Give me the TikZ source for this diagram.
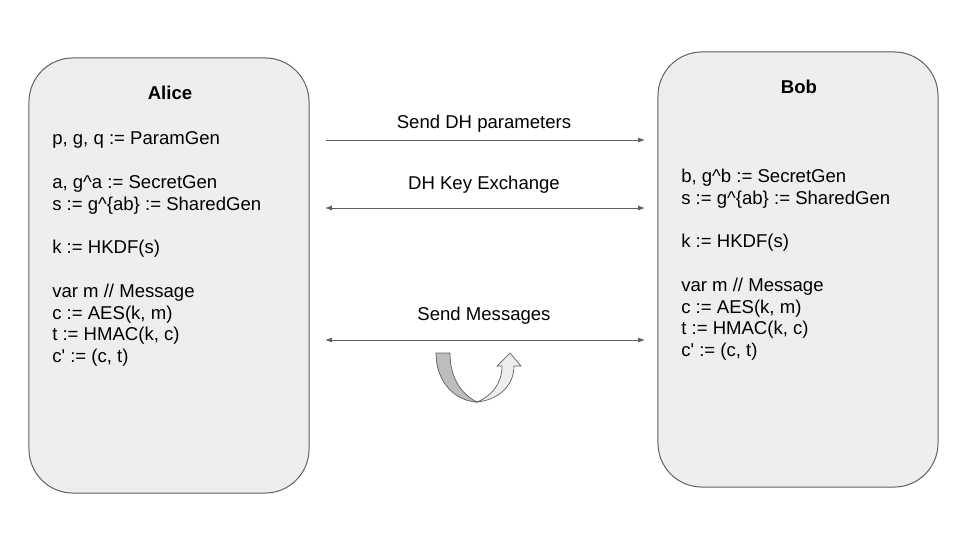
\documentclass[tikz,border=0pt]{standalone}
\usepackage{fontspec}
\setmainfont{Liberation Sans}
\usetikzlibrary{positioning,arrows.meta}

\definecolor{boxfill}{HTML}{EEEEEE}
\definecolor{edge}{HTML}{5F5F5F}
\definecolor{darkband}{HTML}{BDBDBD}

\begin{document}
\begin{tikzpicture}[x=0.025cm,y=-0.025cm]
	\tikzset{party/.style={draw=edge,
				fill=boxfill,
				line width=0.7pt,
				rounded corners=1.1cm,
				minimum width=7cm,
				minimum height=10.875cm},
			title/.style={font=\bfseries\fontsize{13.2}{15.5}\selectfont},
			steps/.style={font=\fontsize{13.2}{15.5}\selectfont,
				align=left,
				inner sep=0pt,
				anchor=north west},
			msg/.style={font=\fontsize{13.2}{15.5}\selectfont},
			arrow/.style={draw=edge,
				line width=0.6pt,
				shorten <=0.4cm,
				shorten >=0.325cm},
			tip/.style={-{Triangle[length=1.6mm,width=1.1mm]}},
			both/.style={{Triangle[length=1.6mm,width=1.1mm]}-{Triangle[length=1.6mm,width=1.1mm]}},
			band/.style={draw=edge, line width=0.5pt}}
	\useasboundingbox (0,0) rectangle (960,540);

	% Parties
	\node[party] (alice) at (169,275.5) {};
	\node[party] (bob) at (798,269.5) {};
	\node[title] (alicename) at (170,93) {Alice};
	\node[title] (bobname) at (799,87) {Bob};

	\node[steps] (alicesteps) at (52,131.5) {p, g, q := ParamGen\\[15.5pt]
		a, g\textasciicircum a := SecretGen\\
		s := g\textasciicircum\{ab\} := SharedGen\\[15.5pt]
		k := HKDF(s)\\[15.5pt]
		var m // Message\\
		c := AES(k, m)\\
		t := HMAC(k, c)\\
		c\textquotesingle{} := (c, t)};
	\node[steps] (bobsteps) at (681,168.5) {b, g\textasciicircum b := SecretGen\\
		s := g\textasciicircum\{ab\} := SharedGen\\[15.5pt]
		k := HKDF(s)\\[15.5pt]
		var m // Message\\
		c := AES(k, m)\\
		t := HMAC(k, c)\\
		c\textquotesingle{} := (c, t)};

	% Messages
	\coordinate (row1) at (0,140);
	\coordinate (row2) at (0,208);
	\coordinate (row3) at (0,340);
	\draw[arrow, tip] (alice.east |- row1) -- (bob.west |- row1);
	\draw[arrow, both] (alice.east |- row2) -- (bob.west |- row2);
	\draw[arrow, both] (alice.east |- row3) -- (bob.west |- row3);
	\node[msg] (sendparams) at (484,124) {Send DH parameters};
	\node[msg] (keyexchange) at (484,185) {DH Key Exchange};
	\node[msg] (sendmsgs) at (484,316) {Send Messages};

	% Turn arrow
	\filldraw[band, fill=darkband] (436,353) .. controls (436,382) and (455,401) .. (477,402)
		.. controls (463,395) and (450,380) .. (450,353) -- cycle;
	\filldraw[band, fill=boxfill] (477,402) .. controls (498,400) and (514,386) .. (514,366)
		-- (521,366) -- (510,353) -- (497,366) -- (502,366)
		.. controls (502,383) and (492,396) .. (477,402) -- cycle;
\end{tikzpicture}
\end{document}
